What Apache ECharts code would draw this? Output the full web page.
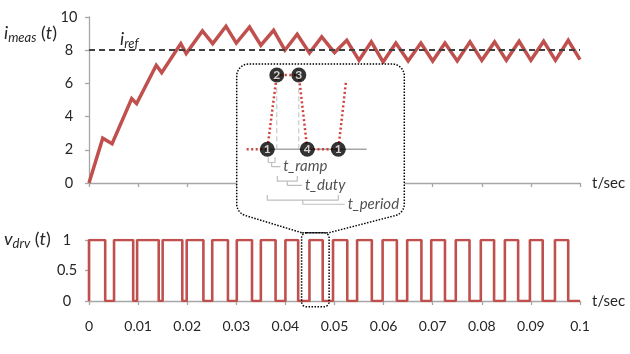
<!DOCTYPE html>
<html><head><meta charset="utf-8">
<script src="https://cdn.jsdelivr.net/npm/echarts@6/dist/echarts.min.js"></script>
<style>html,body{margin:0;padding:0;background:#fff}#c{width:630px;height:354px}</style>
</head><body><div id="c"></div>
<script>
// ---- data ----
const xTickLabels = ['0','0.01','0.02','0.03','0.04','0.05','0.06','0.07','0.08','0.09','0.1'];
const iTickLabels = ['0','2','4','6','8','10'];
const vTickLabels = ['0','0.5','1'];
const iTime = [0,0.0028,0.0047,0.0087,0.0097,0.0137,0.0148,0.0187,0.0198,0.0231,0.0252,0.0279,0.0300,0.0327,0.0350,0.0376,0.0399,0.0424,0.0449,0.0474,0.0500,0.0525,0.0550,0.0575,0.0599,0.0625,0.0650,0.0676,0.0700,0.0725,0.0750,0.0776,0.0800,0.0826,0.0850,0.0876,0.0900,0.0926,0.0950,0.0976,0.1000];
const iMeas = [0,2.7,2.37,5.08,4.78,7.09,6.65,8.4,7.8,9.16,8.4,9.44,8.43,9.4,8.3,9.2,8.0,8.96,7.83,8.8,7.85,8.6,7.39,8.5,7.29,8.43,7.35,8.43,7.35,8.43,7.35,8.5,7.39,8.5,7.39,8.54,7.39,8.54,7.39,8.6,7.43];
const iRef = 8;
const driveTime = [0,0.0033,0.0051,0.009,0.0098,0.0142,0.015,0.019,0.0199,0.0233,0.0251,0.0283,0.0301,0.0332,0.035,0.038,0.04,0.0426,0.0449,0.0476,0.0497,0.0526,0.0546,0.0576,0.0598,0.0627,0.0648,0.0677,0.0697,0.0725,0.0747,0.0775,0.0798,0.0825,0.0847,0.0874,0.0898,0.0924,0.0949,0.0976,0.1];
const driveLevel = [1,0,1,0,1,0,1,0,1,0,1,0,1,0,1,0,1,0,1,0,1,0,1,0,1,0,1,0,1,0,1,0,1,0,1,0,1,0,1,0,0];
const zoomWindowT = [0.0433, 0.0489];
const zoomWindowV = [-0.095, 1.12];
// inset schematic (schematic units)
const schemT = [-2.06, 0, 0.95, 3.15, 4.0, 7.1, 7.87];
const schemV = [0, 0, 1, 1, 0, 0, 0.91];
const markerT = [0, 0.95, 3.15, 4.0, 7.1];
const markerV = [0, 1, 1, 0, 0];
const markerLabels = ['1','2','3','4','1'];
const baselineT = [0, 9.94];
const guideT = [0.95, 3.15];
const bracketNames = ['t_ramp','t_duty','t_period'];
const bracketFrom = [0.1, 1.0, 0];
const bracketTo = [0.77, 3.0, 7.1];
const bracketLevel = [-0.108, -0.36, -0.615];
const bracketTextT = [1.6, 3.77, 8.04];

// ---- chart ----
const RED = '#c0504d';
const AX = '#a6a6a6';
const TXT = '#262626';
const FONT = 'Lato';
const chart = echarts.init(document.getElementById('c'));

const iData = iTime.map((t, k) => [t, iMeas[k]]);
const vData = [[0, 0]].concat(driveTime.map((t, k) => [t, driveLevel[k]]));

const insetSeries = [];
const insetCommon = {xAxisIndex: 2, yAxisIndex: 2, z: 20, silent: true, animation: false};
bracketNames.forEach((nm, k) => {
  const a = bracketFrom[k], b = bracketTo[k], top = bracketLevel[k];
  const bot = top - 0.07, stem = top - 0.125, mid = (a + b) / 2;
  const lineCfg = {type: 'line', symbol: 'none', lineStyle: {color: '#bfbfbf', width: 1.2}};
  insetSeries.push(Object.assign({}, insetCommon, lineCfg, {data: [[a, top], [a, bot], [b, bot], [b, top]]}));
  insetSeries.push(Object.assign({}, insetCommon, lineCfg, {data: [[mid, bot], [mid, stem], [bracketTextT[k] - 0.3, stem]]}));
  insetSeries.push(Object.assign({}, insetCommon, {
    type: 'scatter', symbolSize: 0, data: [[bracketTextT[k], stem]],
    label: {show: true, position: 'right', distance: 0, formatter: nm, fontFamily: FONT, fontStyle: 'italic', fontSize: 15, color: TXT}
  }));
});
insetSeries.push(Object.assign({}, insetCommon, {type: 'line', symbol: 'none', lineStyle: {color: AX, width: 1.5}, data: baselineT.map(t => [t, 0])}));
guideT.forEach(g => insetSeries.push(Object.assign({}, insetCommon, {type: 'line', symbol: 'none', lineStyle: {color: '#bfbfbf', width: 1, type: [5, 3]}, data: [[g, 0], [g, 0.88]]})));
insetSeries.push(Object.assign({}, insetCommon, {type: 'line', symbol: 'none', lineStyle: {color: '#d0403d', width: 2.5, type: [2, 2.5]}, data: schemT.map((t, k) => [t, schemV[k]])}));
insetSeries.push(Object.assign({}, insetCommon, {
  type: 'scatter', symbol: 'circle', symbolSize: 15, z: 25,
  itemStyle: {color: '#000'},
  data: markerT.map((t, k) => ({value: [t, markerV[k]], name: markerLabels[k]})),
  label: {show: true, position: 'inside', formatter: p => p.name, color: '#fff', fontFamily: FONT, fontWeight: 'bold', fontSize: 12}
}));

const option = {
  animation: false,
  backgroundColor: '#fff',
  textStyle: {fontFamily: FONT},
  grid: [
    {left: 89, top: 17, width: 491, height: 166},
    {left: 89, top: 240, width: 491, height: 61},
    {left: 237.3, top: 60.1, width: 165, height: 148.6}
  ],
  xAxis: [
    {gridIndex: 0, type: 'value', min: 0, max: 0.1, interval: 0.01,
     name: 't/sec', nameLocation: 'end', nameGap: 12, nameTextStyle: {fontFamily: FONT, fontSize: 15, color: TXT, verticalAlign: 'middle'},
     axisLine: {lineStyle: {color: AX, width: 1.3}}, axisTick: {show: true, length: 4, lineStyle: {color: AX, width: 1.3}},
     axisLabel: {show: false}, splitLine: {show: false}},
    {gridIndex: 1, type: 'value', min: 0, max: 0.1, interval: 0.01,
     name: 't/sec', nameLocation: 'end', nameGap: 12, nameTextStyle: {fontFamily: FONT, fontSize: 15, color: TXT, verticalAlign: 'middle'},
     axisLine: {lineStyle: {color: AX, width: 1.3}}, axisTick: {show: true, length: 4, lineStyle: {color: AX, width: 1.3}},
     axisLabel: {margin: 18, fontFamily: FONT, fontSize: 14, color: TXT, formatter: (v) => xTickLabels[Math.round(v * 100)]},
     splitLine: {show: false}},
    {gridIndex: 2, type: 'value', min: -3, max: 13.5, show: false}
  ],
  yAxis: [
    {gridIndex: 0, type: 'value', min: 0, max: 10, interval: 2,
     axisLine: {show: true, lineStyle: {color: AX, width: 1.3}}, axisTick: {show: true, length: 4, lineStyle: {color: AX, width: 1.3}},
     axisLabel: {margin: 20, align: 'center', fontFamily: FONT, fontSize: 14.5, color: TXT, formatter: (v) => iTickLabels[Math.round(v / 2)]},
     splitLine: {show: false}},
    {gridIndex: 1, type: 'value', min: 0, max: 1, interval: 0.5,
     axisLine: {show: true, lineStyle: {color: AX, width: 1.3}}, axisTick: {show: true, length: 4, lineStyle: {color: AX, width: 1.3}},
     axisLabel: {margin: 22, align: 'center', fontFamily: FONT, fontSize: 14.5, color: TXT, formatter: (v) => vTickLabels[Math.round(v * 2)]},
     splitLine: {show: false}},
    {gridIndex: 2, type: 'value', min: -0.8, max: 1.2, show: false}
  ],
  series: [
    {type: 'line', xAxisIndex: 0, yAxisIndex: 0, data: iData, symbol: 'none',
     lineStyle: {color: RED, width: 3.5, join: 'miter'}, z: 3,
     markLine: {symbol: 'none', silent: true, label: {show: false},
       lineStyle: {color: '#404040', width: 1.8, type: [6, 4]}, data: [{yAxis: iRef}]}},
    {type: 'line', xAxisIndex: 1, yAxisIndex: 1, data: vData, step: 'end', symbol: 'none',
     lineStyle: {color: RED, width: 2.6}}
  ].concat(insetSeries)
};
chart.setOption(option);

function arc(cx, cy, r, a0, a1, n) {
  const pts = [];
  for (let k = 0; k <= n; k++) {
    const a = (a0 + (a1 - a0) * k / n) * Math.PI / 180;
    pts.push([cx + r * Math.cos(a), cy + r * Math.sin(a)]);
  }
  return pts;
}
const sbTL = chart.convertToPixel({xAxisIndex: 1, yAxisIndex: 1}, [zoomWindowT[0], zoomWindowV[1]]);
const sbBR = chart.convertToPixel({xAxisIndex: 1, yAxisIndex: 1}, [zoomWindowT[1], zoomWindowV[0]]);
const bl = 236.7, bt = 64, br = 404.3, bb = 216, rr = 12;
let pts = [[sbTL[0], sbTL[1]]];
pts = pts.concat(arc(bl + rr, bb - rr, rr, 110, 180, 8));
pts = pts.concat(arc(bl + rr, bt + rr, rr, 180, 270, 10));
pts = pts.concat(arc(br - rr, bt + rr, rr, 270, 360, 10));
pts = pts.concat(arc(br - rr, bb - rr, rr, 0, 70, 8));
pts.push([sbBR[0], sbTL[1]]);

const dotted = {stroke: '#000', lineWidth: 1.5, lineDash: [1.5, 1.5]};
const richName = {
  a: {fontFamily: FONT, fontStyle: 'italic', fontSize: 18, lineHeight: 22, fill: TXT},
  u: {fontFamily: FONT, fontSize: 18, lineHeight: 22, fill: TXT},
  s: {fontFamily: FONT, fontStyle: 'italic', fontSize: 13, lineHeight: 13, padding: [9, 0, 0, 0], fill: TXT}
};
chart.setOption({
  graphic: [
    {type: 'polygon', z: 10, silent: true, shape: {points: pts}, style: Object.assign({fill: '#fff'}, dotted)},
    {type: 'rect', z: 10, silent: true, shape: {x: sbTL[0], y: sbTL[1], width: sbBR[0] - sbTL[0], height: sbBR[1] - sbTL[1], r: 5}, style: Object.assign({fill: 'none'}, dotted)},
    {type: 'text', z: 30, left: 4, top: 22, style: {text: '{a|i}{s|meas}{u| (}{a|t}{u|)}', fill: TXT, rich: richName}},
    {type: 'text', z: 30, left: 4, top: 228, style: {text: '{a|v}{s|drv}{u| (}{a|t}{u|)}', fill: TXT, rich: richName}},
    {type: 'text', z: 30, left: 120, top: 28, style: {text: '{a|i}{s|ref}', fill: TXT, rich: richName}}
  ]
});
</script>
</body></html>
